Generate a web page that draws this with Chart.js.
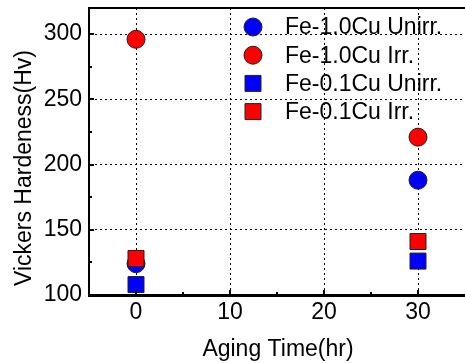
<!DOCTYPE html>
<html>
<head>
<meta charset="utf-8">
<script src="https://cdn.jsdelivr.net/npm/chart.js@4/dist/chart.umd.min.js"></script>
<style>
  html, body { margin: 0; padding: 0; background: #fff; }
  #wrap { width: 465px; height: 363px; }
</style>
</head>
<body>
<div id="wrap"><canvas id="chart"></canvas></div>
<script>
// data
const agingTime = [0, 30];
const cu10Unirr = [124, 188];
const cu10Irr = [296, 221];
const cu01Unirr = [108, 126];
const cu01Irr = [128, 141];
const seriesNames = ['Fe-1.0Cu Unirr.', 'Fe-1.0Cu Irr.', 'Fe-0.1Cu Unirr.', 'Fe-0.1Cu Irr.'];
const xTicks = [0, 10, 20, 30];
const yTicks = [100, 150, 200, 250, 300];

const FONT = "'Liberation Sans', Arial, sans-serif";
const FSIZE = 23;
const BLUE = '#0000ff';
const RED = '#ff0000';

const toPoints = ys => ys.map((y, i) => ({ x: agingTime[i], y: y }));

const styles = [
  { color: BLUE, shape: 'circle', radius: 9 },
  { color: RED, shape: 'circle', radius: 9 },
  { color: BLUE, shape: 'rect', radius: 11.3 },
  { color: RED, shape: 'rect', radius: 11.3 }
];
const values = [cu10Unirr, cu10Irr, cu01Unirr, cu01Irr];

const datasets = values.map((v, i) => ({
  label: seriesNames[i],
  data: toPoints(v),
  pointStyle: styles[i].shape,
  pointRadius: styles[i].radius,
  pointHoverRadius: styles[i].radius,
  backgroundColor: styles[i].color,
  borderColor: '#222',
  borderWidth: 1,
  showLine: false,
  order: values.length - i  // later series drawn on top
}));

// inward ticks, top frame line, axis titles and the in-plot legend
const framePlugin = {
  id: 'frame',
  afterDatasetsDraw(chart) {
    const { ctx, chartArea: a, scales: { x, y } } = chart;
    ctx.save();
    ctx.strokeStyle = '#000';
    ctx.lineWidth = 2;
    ctx.beginPath();
    ctx.moveTo(a.left - 1, a.top);
    ctx.lineTo(a.right, a.top);
    ctx.stroke();

    ctx.beginPath();
    for (let v = 0; v <= 30; v += 5) {
      const px = Math.round(x.getPixelForValue(v));
      const len = v % 10 === 0 ? 5 : 3;
      ctx.moveTo(px, a.bottom);
      ctx.lineTo(px, a.bottom - len);
    }
    for (let v = 125; v <= 300; v += 25) {
      const py = Math.round(y.getPixelForValue(v));
      const len = v % 50 === 0 ? 5 : 3;
      ctx.moveTo(a.left, py);
      ctx.lineTo(a.left + len, py);
    }
    ctx.stroke();

    // legend
    ctx.font = FSIZE + 'px ' + FONT;
    ctx.textBaseline = 'middle';
    ctx.textAlign = 'left';
    chart.data.datasets.forEach((ds, i) => {
      const cy = 27 + i * 28.2;
      ctx.fillStyle = ds.backgroundColor;
      ctx.strokeStyle = '#222';
      ctx.lineWidth = 1;
      ctx.beginPath();
      if (ds.pointStyle === 'circle') {
        ctx.arc(253, cy, ds.pointRadius, 0, Math.PI * 2);
      } else {
        const h = ds.pointRadius * Math.SQRT1_2;
        ctx.rect(253 - h, cy - h, 2 * h, 2 * h);
      }
      ctx.fill();
      ctx.stroke();
      ctx.fillStyle = '#000';
      ctx.fillText(ds.label, 285, cy + 1);
    });

    // axis titles
    ctx.fillStyle = '#000';
    ctx.textAlign = 'center';
    ctx.fillText('Aging Time(hr)', 278, 350);
    ctx.translate(25, 168);
    ctx.rotate(-Math.PI / 2);
    ctx.fillText('Vickers Hardeness(Hv)', 0, 0);
    ctx.restore();
  }
};

new Chart(document.getElementById('chart'), {
  type: 'scatter',
  data: { datasets: datasets },
  options: {
    responsive: true,
    maintainAspectRatio: false,
    animation: false,
    layout: { autoPadding: false, padding: { top: 8, right: 0, bottom: 0, left: 0 } },
    plugins: {
      legend: { display: false },
      tooltip: { enabled: false }
    },
    scales: {
      x: {
        type: 'linear',
        min: -5,
        max: 35,
        afterBuildTicks: s => { s.ticks = xTicks.map(v => ({ value: v })); },
        afterFit: s => { s.height = 68; s.paddingLeft = 0; s.paddingRight = 0; },
        grid: { color: '#000', lineWidth: 1, drawTicks: false },
        border: { display: true, color: '#000', width: 3, dash: [2, 3] },
        ticks: { color: '#000', padding: 4, font: { family: FONT, size: FSIZE } }
      },
      y: {
        type: 'linear',
        min: 100,
        max: 320,
        afterBuildTicks: s => { s.ticks = yTicks.map(v => ({ value: v })); },
        afterFit: s => { s.width = 89; s.paddingTop = 0; s.paddingBottom = 0; },
        grid: { color: '#000', lineWidth: 1, drawTicks: false },
        border: { display: true, color: '#000', width: 2, dash: [2, 3] },
        ticks: { color: '#000', padding: 7, font: { family: FONT, size: FSIZE } }
      }
    }
  },
  plugins: [framePlugin]
});
</script>
</body>
</html>
